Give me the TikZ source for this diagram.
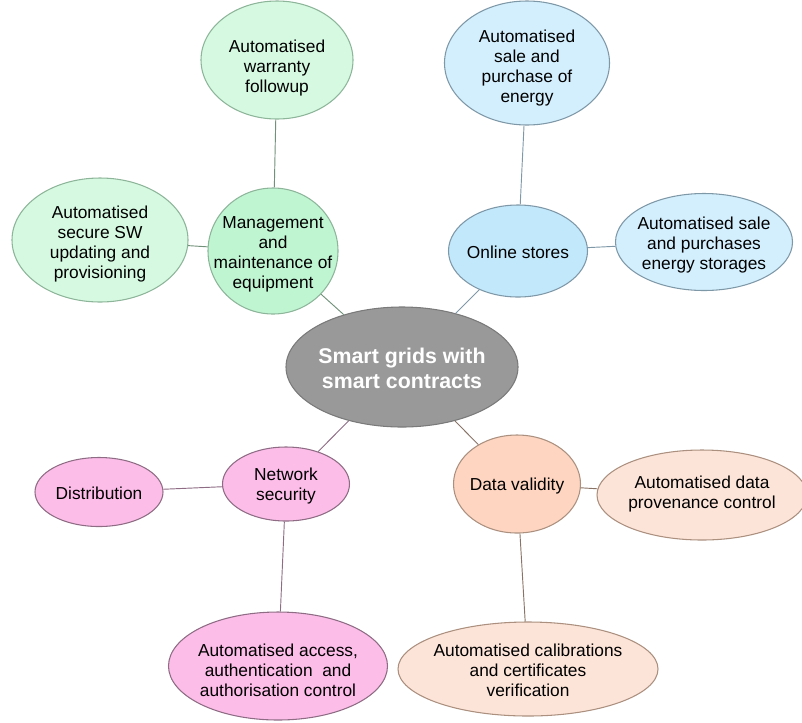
\documentclass[tikz,border=0pt]{standalone}
\usepackage{fontspec}
\setmainfont{Liberation Sans}
\usetikzlibrary{shapes.geometric}
\definecolor{gmain}{HTML}{C0F5D2}
\definecolor{gout}{HTML}{D6F9E1}
\definecolor{gline}{HTML}{8DB59A}
\definecolor{bmain}{HTML}{C2E8FB}
\definecolor{bout}{HTML}{D3EFFD}
\definecolor{bline}{HTML}{7F98A8}
\definecolor{pmain}{HTML}{FDBDE9}
\definecolor{pline}{HTML}{8E6C84}
\definecolor{omain}{HTML}{FDD5C0}
\definecolor{oout}{HTML}{FDE4D8}
\definecolor{oline}{HTML}{AB9080}
\definecolor{cfill}{HTML}{999999}
\definecolor{cline}{HTML}{7A7A7A}
\newcommand\bubtext[2]{\makebox[0pt]{\raisebox{#1}[0pt][0pt]{\begin{tabular}{@{}c@{}}#2\end{tabular}}}}
\tikzset{
  bubble/.style={ellipse, draw, line width=0.8pt, inner sep=0pt,
    font=\fontsize{13}{15}\selectfont, text=black},
  sz/.style 2 args={minimum width=#1*0.75pt, minimum height=#2*0.75pt},
  conn/.style={line width=0.7pt},
}
\begin{document}
\begin{tikzpicture}[x=0.75pt,y=-0.75pt]
\useasboundingbox (0,0) rectangle (802,722);
% center
\node[bubble, fill=cfill, draw=cline, text=white, font=\fontsize{16}{19}\selectfont\bfseries,
  sz={232}{120}] (c) at (402,367) {\bubtext{-7.4pt}{Smart grids with\\smart contracts}};
% green branch
\node[bubble, fill=gmain, draw=gline, sz={130}{126}] (m) at (273,251) {\bubtext{-5.85pt}{Management\\and\\maintenance of\\equipment}};
\node[bubble, fill=gout, draw=gline, sz={152}{118}] (w) at (277,60) {\bubtext{-9pt}{Automatised\\warranty\\followup}};
\node[bubble, fill=gout, draw=gline, sz={176}{124}] (sw) at (100,240) {\bubtext{-6.6pt}{Automatised\\secure SW\\updating and\\provisioning}};
% blue branch
\node[bubble, fill=bmain, draw=bline, sz={139}{92}] (o) at (518,251) {\bubtext{-5.85pt}{Online stores}};
\node[bubble, fill=bout, draw=bline, sz={165}{124}] (sp) at (527,63) {\bubtext{-7pt}{Automatised\\sale and\\purchase of\\energy}};
\node[bubble, fill=bout, draw=bline, sz={177}{97}] (st) at (704,242) {\bubtext{-5.6pt}{Automatised sale\\and purchases\\energy storages}};
% pink branch
\node[bubble, fill=pmain, draw=pline, sz={127}{74}] (n) at (286,484) {\bubtext{-5.1pt}{Network\\security}};
\node[bubble, fill=pmain, draw=pline, sz={128}{69}] (d) at (99,492) {\bubtext{-5.85pt}{Distribution}};
\node[bubble, fill=pmain, draw=pline, sz={219}{108}] (a) at (278,666) {\bubtext{-8.1pt}{Automatised access,\\authentication\ \ and\\authorisation control}};
% peach branch
\node[bubble, fill=omain, draw=oline, sz={127}{98}] (v) at (517,484) {\bubtext{-5.1pt}{Data validity}};
\node[bubble, fill=oout, draw=oline, sz={210}{90}] (pr) at (702,495) {\bubtext{-2.85pt}{Automatised data\\provenance control}};
\node[bubble, fill=oout, draw=oline, sz={260}{94}] (ca) at (528,669) {\bubtext{-5.85pt}{Automatised calibrations\\and certificates\\verification}};
% connectors
\draw[conn, draw=gline!80!black] (c) -- (m);
\draw[conn, draw=gline!80!black] (m) -- (w);
\draw[conn, draw=gline!80!black] (m) -- (sw);
\draw[conn, draw=bline] (c) -- (o);
\draw[conn, draw=bline] (o) -- (sp);
\draw[conn, draw=bline] (o) -- (st);
\draw[conn, draw=pline] (c) -- (n);
\draw[conn, draw=pline] (n) -- (d);
\draw[conn, draw=pline] (n) -- (a);
\draw[conn, draw=oline!80!black] (c) -- (v);
\draw[conn, draw=oline!80!black] (v) -- (pr);
\draw[conn, draw=oline!80!black] (v) -- (ca);
\end{tikzpicture}
\end{document}
